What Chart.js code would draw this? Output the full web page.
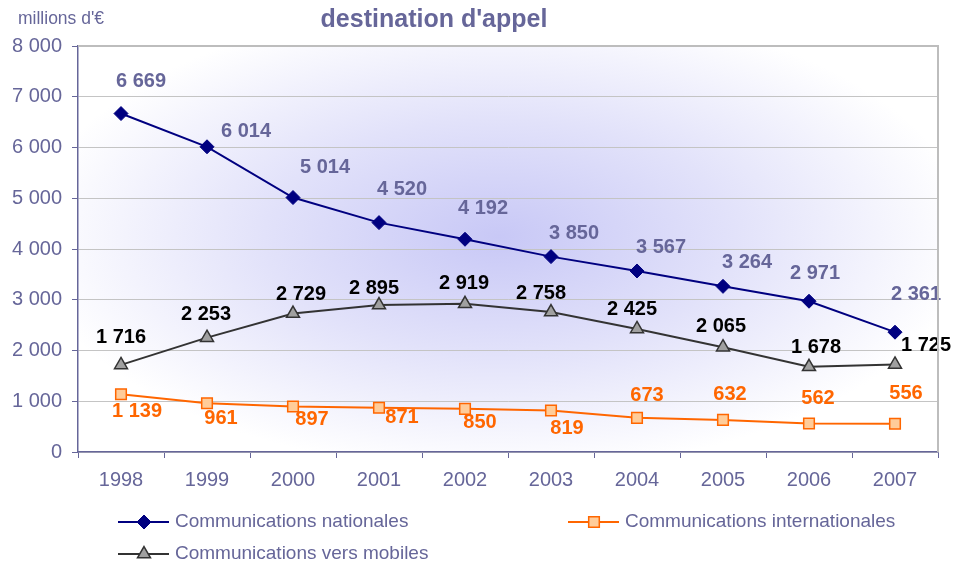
<!DOCTYPE html>
<html>
<head>
<meta charset="utf-8">
<script src="https://cdn.jsdelivr.net/npm/chart.js@4.4.0/dist/chart.umd.min.js"></script>
<style>
html, body { margin: 0; padding: 0; background: #fff; }
</style>
</head>
<body>
<canvas id="lineChart" width="956" height="567"></canvas>
<script>
var years = ["1998", "1999", "2000", "2001", "2002", "2003", "2004", "2005", "2006", "2007"];
var nationales = [6669, 6014, 5014, 4520, 4192, 3850, 3567, 3264, 2971, 2361];
var internationales = [1139, 961, 897, 871, 850, 819, 673, 632, 562, 556];
var mobiles = [1716, 2253, 2729, 2895, 2919, 2758, 2425, 2065, 1678, 1725];
var yMin = 0, yMax = 8000, yStep = 1000;

var FONT = "'Liberation Sans', Arial, sans-serif";
var SLATE = '#666699';

// label placement around each point (dx, dy from the point)
var labelOffsets = {
    nat: [[20,-32],[39,-15],[32,-30],[23,-33],[18,-31],[23,-23],[24,-23],[24,-24],[6,-28],[21,-38]],
    intl: [[16,17],[14,15],[19,13],[23,10],[15,14],[16,18],[10,-22],[7,-25],[9,-25],[11,-30]],
    mob: [[0,-27],[-1,-23],[8,-19],[-5,-17],[-1,-20],[-10,-19],[-5,-19],[-2,-21],[7,-19],[31,-19]]
};
var labelColors = { nat: SLATE, intl: '#ff6600', mob: '#000000' };

function spaced(v) {
    return String(v).replace(/\B(?=(\d{3})+(?!\d))/g, ' ');
}

var decor = {
    id: 'decor',
    beforeDraw: function(chart) {
        var ctx = chart.ctx, a = chart.chartArea;
        ctx.save();
        ctx.fillStyle = '#fff';
        ctx.fillRect(0, 0, chart.width, chart.height);
        ctx.beginPath();
        ctx.rect(a.left, a.top, a.right - a.left, a.bottom - a.top);
        ctx.clip();
        ctx.translate(a.left + (a.right - a.left) * 0.49, a.top + (a.bottom - a.top) * 0.47);
        ctx.scale(1, 0.5);
        var g = ctx.createRadialGradient(0, 0, 0, 0, 0, 470);
        g.addColorStop(0, '#c8c8f6');
        g.addColorStop(0.5, '#e2e2fa');
        g.addColorStop(1, '#ffffff');
        ctx.fillStyle = g;
        ctx.fillRect(-700, -1000, 1400, 2000);
        ctx.restore();
    },
    afterDatasetsDraw: function(chart) {
        var ctx = chart.ctx;
        ctx.save();
        ctx.font = 'bold 20px ' + FONT;
        ctx.textAlign = 'center';
        ctx.textBaseline = 'middle';
        chart.data.datasets.forEach(function(ds, i) {
            var meta = chart.getDatasetMeta(i);
            var offs = labelOffsets[ds.key];
            ctx.fillStyle = labelColors[ds.key];
            meta.data.forEach(function(pt, j) {
                ctx.fillText(spaced(ds.data[j]), pt.x + offs[j][0], pt.y + offs[j][1]);
            });
        });
        ctx.restore();
    },
    afterDraw: function(chart) {
        var ctx = chart.ctx, a = chart.chartArea;
        ctx.save();
        // plot frame top/right
        ctx.strokeStyle = '#bdbdbd';
        ctx.lineWidth = 2;
        ctx.beginPath();
        ctx.moveTo(a.left, a.top);
        ctx.lineTo(a.right, a.top);
        ctx.lineTo(a.right, a.bottom);
        ctx.stroke();

        // unit and title
        ctx.fillStyle = SLATE;
        ctx.textBaseline = 'middle';
        ctx.textAlign = 'left';
        ctx.font = '17.5px ' + FONT;
        ctx.fillText("millions d'\u20ac", 18, 19);
        ctx.textAlign = 'center';
        ctx.font = 'bold 25px ' + FONT;
        ctx.fillText("destination d'appel", 434, 20);

        // legend
        var slots = [[118, 522], [568, 522], [118, 554]];
        ctx.font = '19px ' + FONT;
        ctx.textAlign = 'left';
        chart.data.datasets.forEach(function(ds, i) {
            var x = slots[i][0], y = slots[i][1];
            ctx.strokeStyle = ds.borderColor;
            ctx.lineWidth = ds.borderWidth;
            ctx.beginPath();
            ctx.moveTo(x, y);
            ctx.lineTo(x + 51, y);
            ctx.stroke();
            ctx.fillStyle = ds.pointBackgroundColor;
            ctx.strokeStyle = ds.pointBorderColor;
            ctx.lineWidth = ds.pointBorderWidth;
            Chart.helpers.drawPoint(ctx, {
                pointStyle: ds.pointStyle, radius: ds.pointRadius,
                rotation: 0, borderWidth: ds.pointBorderWidth
            }, x + 26, y);
            ctx.fillStyle = SLATE;
            ctx.fillText(ds.label, x + 57, y);
        });
        ctx.restore();
    }
};

var ctxL = document.getElementById("lineChart").getContext('2d');
var myLineChart = new Chart(ctxL, {
    type: 'line',
    data: {
        labels: years,
        datasets: [{
            key: 'nat',
            label: "Communications nationales",
            data: nationales,
            borderColor: '#000080',
            borderWidth: 2,
            pointStyle: 'rectRot',
            pointRadius: 7,
            pointBackgroundColor: '#000080',
            pointBorderColor: '#000080',
            pointBorderWidth: 1
        }, {
            key: 'intl',
            label: "Communications internationales",
            data: internationales,
            borderColor: '#ff6600',
            borderWidth: 2,
            pointStyle: 'rect',
            pointRadius: 7.5,
            pointBackgroundColor: '#ffcc99',
            pointBorderColor: '#ff6600',
            pointBorderWidth: 1.5
        }, {
            key: 'mob',
            label: "Communications vers mobiles",
            data: mobiles,
            borderColor: '#333333',
            borderWidth: 2,
            pointStyle: 'triangle',
            pointRadius: 7.5,
            pointBackgroundColor: '#a0a0a0',
            pointBorderColor: '#333333',
            pointBorderWidth: 1.5
        }]
    },
    options: {
        responsive: false,
        animation: false,
        events: [],
        layout: { padding: { top: 46, right: 18, left: 0, bottom: 0 } },
        plugins: {
            legend: { display: false },
            title: { display: false },
            tooltip: { enabled: false }
        },
        scales: {
            x: {
                offset: true,
                afterFit: function(s) { s.height = 115; },
                grid: { drawOnChartArea: false, offset: true, tickLength: 6, tickColor: SLATE },
                border: { color: SLATE, width: 1.5 },
                ticks: { color: SLATE, font: { family: FONT, size: 20 }, padding: 10 }
            },
            y: {
                min: yMin,
                max: yMax,
                afterFit: function(s) { s.width = 78; },
                grid: { color: '#c4c4c4', lineWidth: 1, tickLength: 6, tickColor: SLATE },
                border: { color: SLATE, width: 1.5 },
                ticks: {
                    stepSize: yStep,
                    color: SLATE,
                    padding: 10,
                    font: { family: FONT, size: 20 },
                    callback: function(v) { return spaced(v); }
                }
            }
        }
    },
    plugins: [decor]
});
</script>
</body>
</html>
